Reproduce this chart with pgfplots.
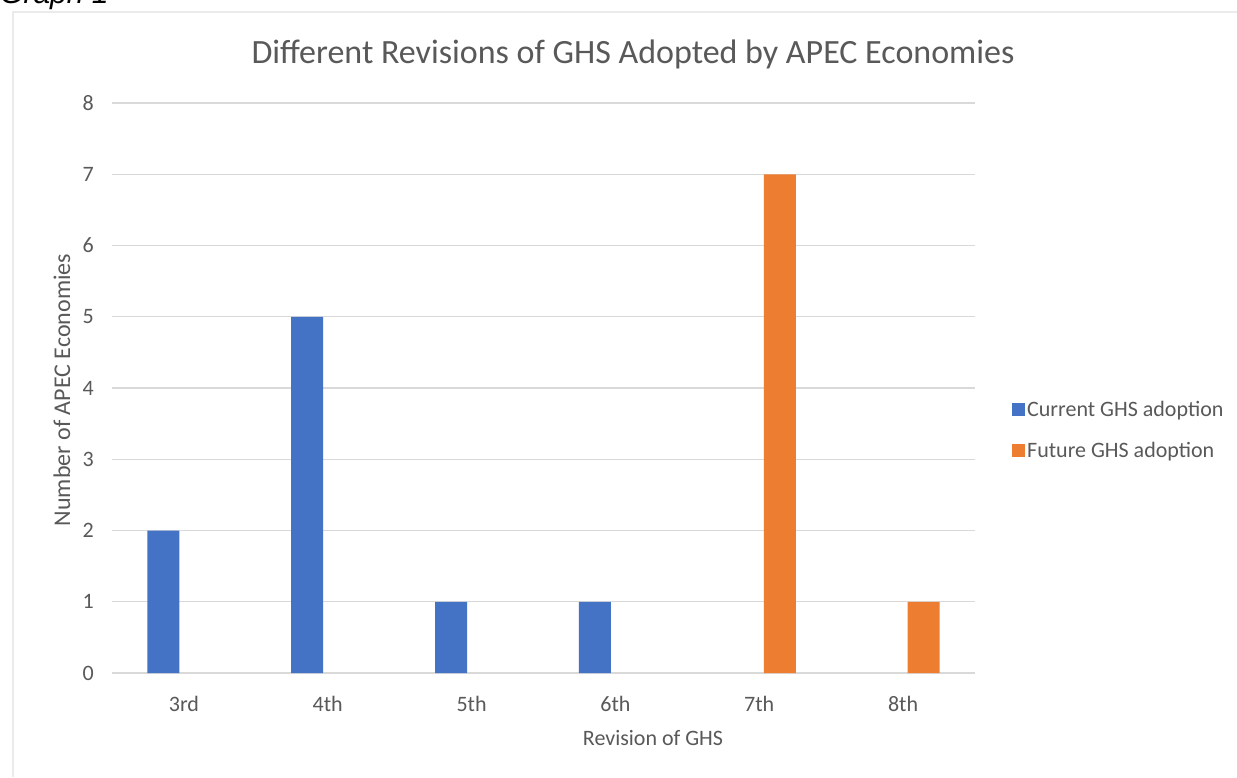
\documentclass[border=0pt]{standalone}
\usepackage{pgfplots}
\pgfplotsset{compat=1.18}
\usepackage{fontspec}
\setmainfont{Carlito}
\newfontfamily\arialfont{Liberation Sans}
\definecolor{cblue}{HTML}{4472C4}
\definecolor{corange}{HTML}{ED7D31}
\definecolor{txt}{HTML}{595959}
\definecolor{gridc}{HTML}{D9D9D9}
\begin{document}
\begin{tikzpicture}
\clip (0pt,0pt) rectangle (1237pt,-777pt);
\fill[white] (0pt,0pt) rectangle (1237pt,-777pt);
\node[anchor=base west, inner sep=0pt, font=\arialfont\itshape\fontsize{30}{34}\selectfont] at (0pt,-3pt) {Graph 1};
\draw[color=black!8, line width=1.5pt] (13pt,-777pt) -- (13pt,-12pt) -- (1240pt,-12pt);
\node[font=\fontsize{34}{40}\selectfont, text=txt] at (633pt,-54pt) {Different Revisions of GHS Adopted by APEC Economies};
\node[font=\fontsize{22}{26}\selectfont, text=txt] at (653pt,-738pt) {Revision of GHS};
\node[font=\fontsize{24}{28}\selectfont, text=txt, rotate=90] at (62pt,-390pt) {Number of APEC Economies};
\begin{axis}[
  at={(112pt,-673pt)}, anchor=south west,
  width=863pt, height=570pt, scale only axis,
  xmin=-0.5, xmax=5.5, ymin=0, ymax=8,
  xtick={0,1,2,3,4,5}, xticklabels={3rd,4th,5th,6th,7th,8th},
  ytick={0,1,2,3,4,5,6,7,8},
  ymajorgrids, grid style={gridc, line width=1.3pt},
  axis x line*=bottom, axis y line*=left,
  x axis line style={gridc, line width=1.3pt},
  y axis line style={draw=none},
  major tick length=0pt,
  /pgf/number format/assume math mode=true,
  ticklabel style={font=\fontsize{22}{26}\selectfont, text=txt},
  xticklabel style={inner sep=0pt, anchor=north, yshift=-23pt},
  yticklabel style={inner sep=0pt, anchor=east, xshift=-18pt},
  legend style={at={(axis description cs:1,0.5)}, anchor=west, xshift=37pt, yshift=-42pt,
     draw=none, fill=none, font=\fontsize{22}{26}\selectfont, text=txt,
     row sep=20pt, inner sep=0pt, nodes={inner sep=2pt}},
  legend cell align=left,
  legend image code/.code={\fill[#1] (0pt,-6.5pt) rectangle (13pt,6.5pt);},
]
\addplot[ybar, bar width=0.2228, bar shift=-0.1428, fill=cblue, draw=none]
  coordinates {(0,2) (1,5) (2,1) (3,1)};
\addlegendentry{Current GHS adoption}
\addplot[ybar, bar width=0.2228, bar shift=0.1428, fill=corange, draw=none]
  coordinates {(4,7) (5,1)};
\addlegendentry{Future GHS adoption}
\end{axis}
\end{tikzpicture}
\end{document}
